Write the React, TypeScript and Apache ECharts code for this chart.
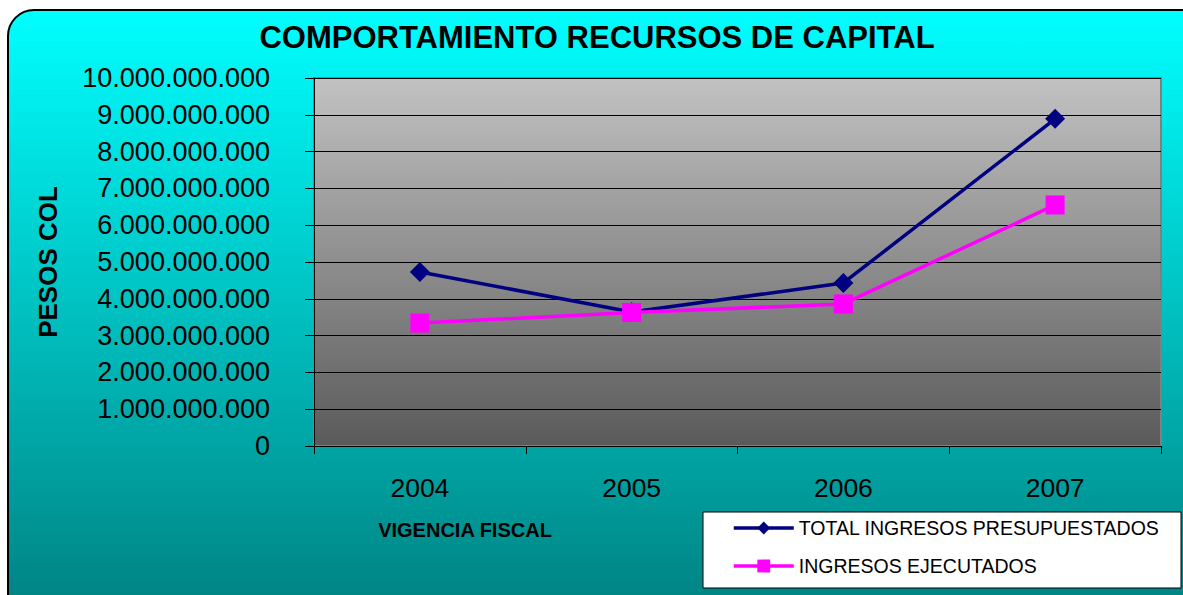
import React, { useEffect, useRef } from "react";
import * as echarts from "echarts";

const categories = ["2004", "2005", "2006", "2007"];
const totalPresupuestado = [4730000000, 3640000000, 4430000000, 8890000000];
const ingresosEjecutados = [3340000000, 3630000000, 3860000000, 6550000000];
const seriesNames = ["TOTAL INGRESOS PRESUPUESTADOS", "INGRESOS EJECUTADOS"];
const titleText = "COMPORTAMIENTO RECURSOS DE CAPITAL";
const yName = "PESOS COL";
const xName = "VIGENCIA FISCAL";

function fmt(v: number): string {
  return String(Math.round(v)).replace(/\B(?=(\d{3})+(?!\d))/g, ".");
}

export default function App() {
  const ref = useRef<HTMLDivElement>(null);
  useEffect(() => {
    document.body.style.margin = "0";
    const chart = echarts.init(ref.current!, null, { renderer: "svg" });
    const font = "Liberation Sans, Arial, sans-serif";
    chart.setOption({
      animation: false,
      textStyle: { fontFamily: font },
      graphic: [
        {
          type: "rect",
          z: -10,
          shape: { x: 8, y: 10, width: 1200, height: 610, r: 26 },
          style: {
            fill: new echarts.graphic.LinearGradient(0, 0, 0, 1, [
              { offset: 0, color: "#00FFFF" },
              { offset: 1, color: "#008080" },
            ]),
            stroke: "#000",
            lineWidth: 2,
          },
        },
        {
          type: "rect",
          z: 0,
          shape: { x: 703, y: 512, width: 478, height: 76 },
          style: { fill: "#fff", stroke: "#000", lineWidth: 1 },
        },
        {
          type: "text",
          x: 48,
          y: 262,
          rotation: Math.PI / 2,
          style: {
            text: yName,
            font: "bold 26px Liberation Sans, Arial, sans-serif",
            fill: "#000",
            align: "center",
            verticalAlign: "middle",
          },
        },
        {
          type: "text",
          x: 465,
          y: 530,
          style: {
            text: xName,
            font: "bold 20px Liberation Sans, Arial, sans-serif",
            fill: "#000",
            align: "center",
            verticalAlign: "middle",
          },
        },
      ],
      title: {
        text: titleText,
        left: 592,
        top: 17,
        textAlign: "center",
        textStyle: { fontSize: 31, fontWeight: "bold", color: "#000", fontFamily: font },
      },
      grid: {
        left: 314,
        top: 78,
        width: 847,
        height: 368,
        show: true,
        borderColor: "#808080",
        borderWidth: 2,
        backgroundColor: new echarts.graphic.LinearGradient(0, 0, 0, 1, [
          { offset: 0, color: "#C2C2C2" },
          { offset: 1, color: "#5A5A5A" },
        ]),
      },
      legend: {
        left: 732,
        top: 518,
        orient: "vertical",
        padding: [0, 0, 0, 0],
        itemGap: 18,
        itemWidth: 60,
        itemHeight: 16,
        z: 5,
        lineStyle: { width: 3.5 },
        textStyle: { fontSize: 19.5, color: "#000", fontFamily: font },
        data: seriesNames,
      },
      xAxis: {
        type: "category",
        data: categories,
        boundaryGap: true,
        axisLine: { show: true, lineStyle: { color: "#000", width: 1 } },
        axisTick: { show: true, length: 8, lineStyle: { color: "#000" } },
        axisLabel: { fontSize: 26.5, color: "#000", margin: 28, fontFamily: font },
      },
      yAxis: {
        type: "value",
        min: 0,
        max: 10000000000,
        interval: 1000000000,
        axisLine: { show: true, lineStyle: { color: "#000", width: 1 } },
        axisTick: { show: true, length: 9, inside: false, lineStyle: { color: "#000" } },
        splitLine: { show: true, lineStyle: { color: "#000", width: 1 } },
        axisLabel: {
          fontSize: 27,
          color: "#000",
          margin: 44,
          fontFamily: font,
          formatter: (v: number) => fmt(v),
        },
      },
      series: [
        {
          name: seriesNames[0],
          type: "line",
          data: totalPresupuestado,
          symbol: "diamond",
          symbolSize: 20,
          lineStyle: { color: "#000080", width: 3.5 },
          itemStyle: { color: "#000080" },
          z: 3,
        },
        {
          name: seriesNames[1],
          type: "line",
          data: ingresosEjecutados,
          symbol: "rect",
          symbolSize: 19,
          lineStyle: { color: "#FF00FF", width: 3.5 },
          itemStyle: { color: "#FF00FF" },
          z: 4,
        },
      ],
    });
    return () => chart.dispose();
  }, []);
  return <div ref={ref} style={{ width: 1183, height: 595 }} />;
}
